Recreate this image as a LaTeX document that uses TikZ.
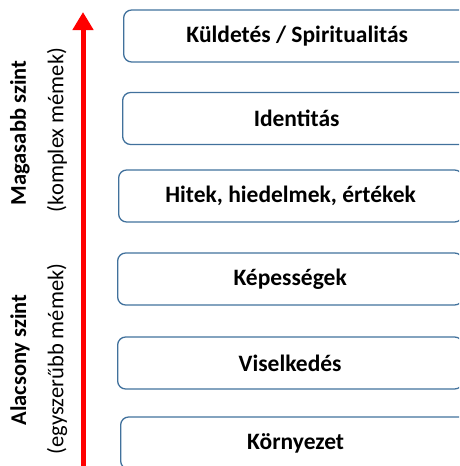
\documentclass[tikz,border=0pt]{standalone}
\usepackage{fontspec}
\setmainfont{Carlito}
\usetikzlibrary{arrows.meta}

\definecolor{boxblue}{RGB}{65,113,156}

\tikzset{
    levelbox/.style={draw=boxblue, line width=1.3pt, rounded corners=8pt,
        minimum height=52pt, anchor=west, inner sep=0pt,
        font=\fontsize{23.5}{27}\selectfont\bfseries},
    sidelabel/.style={rotate=90, inner sep=0pt, font=\fontsize{22.5}{26}\selectfont}
}

\begin{document}
\begin{tikzpicture}[x=1pt, y=-1pt]
    \useasboundingbox (0,0) rectangle (459,466);
    \clip (0,0) rectangle (459,466);

    \node[levelbox, minimum width=347pt] (kuldetes) at (123,36) {Küldetés / Spiritualitás};
    \node[levelbox, minimum width=348pt] (identitas) at (122,118.5) {Identitás};
    \node[levelbox, minimum width=344pt] (hitek) at (118,196) {Hitek, hiedelmek, értékek};
    \node[levelbox, minimum width=345pt] (kepessegek) at (117,279) {Képességek};
    \node[levelbox, minimum width=345pt] (viselkedes) at (117,363) {Viselkedés};
    \node[levelbox, minimum width=350pt] (kornyezet) at (120,443) {Környezet};

    \coordinate (also) at (83,470);
    \coordinate (felso) at (83,12);
    \draw[red, line width=5pt, -{Triangle[width=20pt, length=18pt]}] (also) -- (felso);

    \node[sidelabel, font=\fontsize{22.5}{26}\selectfont\bfseries] (magas) at (20,133) {Magasabb szint};
    \node[sidelabel] (komplex) at (57,130) {(komplex mémek)};
    \node[sidelabel, font=\fontsize{22.5}{26}\selectfont\bfseries] (alacsony) at (20,360) {Alacsony szint};
    \node[sidelabel] (egyszeru) at (57,359) {(egyszerűbb mémek)};
\end{tikzpicture}
\end{document}
